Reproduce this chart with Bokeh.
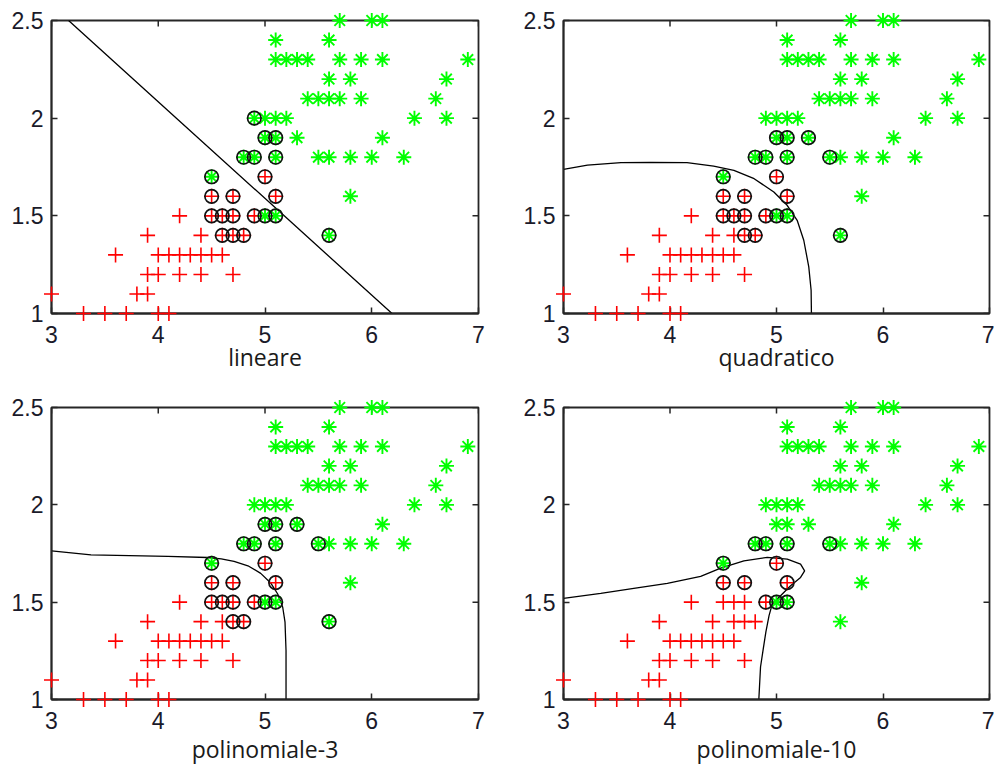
import math
from bokeh.plotting import figure
from bokeh.layouts import column, row
from bokeh.models import FixedTicker, Range1d
from bokeh.embed import file_html
from bokeh.resources import INLINE

# ---------------- data ----------------
x_ticks = [3, 4, 5, 6, 7]
x_tick_labels = ["3", "4", "5", "6", "7"]
y_ticks = [1, 1.5, 2, 2.5]
y_tick_labels = ["1", "1.5", "2", "2.5"]

# Iris versicolor (petal length, petal width)
vers_x = [3.3, 3.5, 3.7, 4.0, 4.1,
          3.0, 3.8, 3.9,
          3.9, 4.0, 4.2, 4.4, 4.7,
          3.6, 4.0, 4.1, 4.2, 4.3, 4.4, 4.5, 4.6,
          3.9, 4.4, 4.6, 4.7, 4.8,
          4.2, 4.5, 4.6, 4.7, 4.9,
          4.5, 4.7, 5.1,
          5.0]
vers_y = [1.0, 1.0, 1.0, 1.0, 1.0,
          1.1, 1.1, 1.1,
          1.2, 1.2, 1.2, 1.2, 1.2,
          1.3, 1.3, 1.3, 1.3, 1.3, 1.3, 1.3, 1.3,
          1.4, 1.4, 1.4, 1.4, 1.4,
          1.5, 1.5, 1.5, 1.5, 1.5,
          1.6, 1.6, 1.6,
          1.7]

# Iris virginica (petal length, petal width)
virg_x = [5.7, 6.0, 6.1,
          5.1, 5.6,
          5.1, 5.2, 5.3, 5.4, 5.7, 5.9, 6.1, 6.9,
          5.6, 5.8, 6.7,
          5.4, 5.5, 5.6, 5.7, 5.9, 6.6,
          4.9, 5.0, 5.1, 5.2, 6.4, 6.7,
          5.0, 5.1, 5.3, 6.1,
          4.8, 4.9, 5.1, 5.5, 5.6, 5.8, 6.0, 6.3,
          4.5,
          5.8,
          5.0, 5.1,
          5.6]
virg_y = [2.5, 2.5, 2.5,
          2.4, 2.4,
          2.3, 2.3, 2.3, 2.3, 2.3, 2.3, 2.3, 2.3,
          2.2, 2.2, 2.2,
          2.1, 2.1, 2.1, 2.1, 2.1, 2.1,
          2.0, 2.0, 2.0, 2.0, 2.0, 2.0,
          1.9, 1.9, 1.9, 1.9,
          1.8, 1.8, 1.8, 1.8, 1.8, 1.8, 1.8, 1.8,
          1.7,
          1.6,
          1.5, 1.5,
          1.4]

# support vectors (circled points) per model
sv_lin_x = [4.6, 4.7, 4.8, 4.5, 4.6, 4.7, 4.9, 4.5, 4.7, 5.1, 5.0,
            5.0, 5.1, 4.5, 4.8, 4.9, 5.1, 5.0, 5.1, 4.9, 5.6]
sv_lin_y = [1.4, 1.4, 1.4, 1.5, 1.5, 1.5, 1.5, 1.6, 1.6, 1.6, 1.7,
            1.5, 1.5, 1.7, 1.8, 1.8, 1.8, 1.9, 1.9, 2.0, 1.4]

sv_quad_x = [4.7, 4.8, 4.5, 4.6, 4.7, 4.9, 4.5, 4.7, 5.1, 5.0,
             5.0, 5.1, 4.5, 4.8, 4.9, 5.1, 5.5, 5.0, 5.1, 5.3, 5.6]
sv_quad_y = [1.4, 1.4, 1.5, 1.5, 1.5, 1.5, 1.6, 1.6, 1.6, 1.7,
             1.5, 1.5, 1.7, 1.8, 1.8, 1.8, 1.8, 1.9, 1.9, 1.9, 1.4]

sv_p3_x = [4.7, 4.8, 4.5, 4.6, 4.7, 4.9, 4.5, 4.7, 5.1, 5.0,
           5.0, 5.1, 4.5, 4.8, 4.9, 5.1, 5.5, 5.0, 5.1, 5.3, 5.6]
sv_p3_y = [1.4, 1.4, 1.5, 1.5, 1.5, 1.5, 1.6, 1.6, 1.6, 1.7,
           1.5, 1.5, 1.7, 1.8, 1.8, 1.8, 1.8, 1.9, 1.9, 1.9, 1.4]

sv_p10_x = [4.9, 4.5, 4.7, 5.1, 5.0,
            5.0, 5.1, 4.5, 4.8, 4.9, 5.1, 5.5]
sv_p10_y = [1.5, 1.6, 1.6, 1.6, 1.7,
            1.5, 1.5, 1.7, 1.8, 1.8, 1.8, 1.8]

# decision boundaries
bd_lin_x = [3.16, 4.17, 5.18, 6.19]
bd_lin_y = [2.5, 2.0, 1.5, 1.0]

bd_quad_x = [3.0, 3.225, 3.54, 3.82, 4.16, 4.41, 4.6, 4.79, 4.975, 5.1,
             5.194, 5.256, 5.303, 5.325, 5.328]
bd_quad_y = [1.738, 1.760, 1.772, 1.774, 1.772, 1.755, 1.733, 1.690, 1.622, 1.554,
             1.477, 1.375, 1.239, 1.119, 1.0]

bd_p3_x = [3.0, 3.37, 4.09, 4.46, 4.59, 4.71, 4.84, 4.96, 5.056, 5.119,
           5.166, 5.1875, 5.197, 5.197]
bd_p3_y = [1.764, 1.743, 1.735, 1.7295, 1.7227, 1.709, 1.687, 1.648, 1.597, 1.542,
           1.474, 1.397, 1.252, 1.0]

bd_p10_x = [3.0, 3.35, 3.66, 3.975, 4.288, 4.476, 4.694, 4.913, 5.101, 5.226,
            5.264, 5.226, 5.132, 5.038, 4.96, 4.93, 4.90, 4.876, 4.85, 4.834]
bd_p10_y = [1.52, 1.545, 1.571, 1.597, 1.632, 1.675, 1.712, 1.730, 1.721, 1.695,
            1.661, 1.627, 1.584, 1.533, 1.49, 1.431, 1.346, 1.261, 1.167, 1.0]

titles = ["lineare", "quadratico", "polinomiale-3", "polinomiale-10"]

X_MIN, X_MAX = 3, 7
Y_MIN, Y_MAX = 1, 2.5

# ---------------- styling ----------------
TICK_FONT = "Liberation Sans"
LABEL_FONT = "Open Sans"
AX_COLOR = "#262626"
TICK_LEN = 6


def make_panel(title, svx, svy, bx, by, width, height, bl, br, bt, bb, lab_standoff):
    p = figure(width=width, height=height,
               x_range=Range1d(X_MIN, X_MAX), y_range=Range1d(Y_MIN, Y_MAX),
               output_backend="svg", toolbar_location=None,
               min_border_left=bl, min_border_right=br,
               min_border_top=bt, min_border_bottom=bb)
    p.grid.visible = False
    p.outline_line_color = AX_COLOR
    p.outline_line_width = 1.8
    p.background_fill_color = "white"
    p.border_fill_color = "white"

    p.xaxis.ticker = FixedTicker(ticks=x_ticks)
    p.yaxis.ticker = FixedTicker(ticks=y_ticks)
    p.xaxis.major_label_overrides = {t: s for t, s in zip(x_ticks, x_tick_labels)}
    p.yaxis.major_label_overrides = {t: s for t, s in zip(y_ticks, y_tick_labels)}
    for ax in list(p.xaxis) + list(p.yaxis):
        ax.axis_line_color = AX_COLOR
        ax.axis_line_width = 1.8
        ax.major_tick_line_color = AX_COLOR
        ax.major_tick_line_width = 1.5
        ax.major_tick_in = TICK_LEN
        ax.major_tick_out = 0
        ax.minor_tick_line_color = None
        ax.major_label_text_font = TICK_FONT
        ax.major_label_text_font_size = "23px"
        ax.major_label_text_color = "#1a1a2a"
    p.xaxis.major_label_standoff = 12
    p.yaxis.major_label_standoff = 8
    p.xaxis.axis_label = title
    p.xaxis.axis_label_text_font = LABEL_FONT
    p.xaxis.axis_label_text_font_size = "23px"
    p.xaxis.axis_label_text_font_style = "normal"
    p.xaxis.axis_label_text_color = "#1a1a1a"
    p.xaxis.axis_label_standoff = lab_standoff

    # inward ticks on the top and right sides of the box
    p.ray(x=x_ticks, y=[Y_MAX] * len(x_ticks), length=TICK_LEN, length_units="screen",
          angle=-math.pi / 2, line_color=AX_COLOR, line_width=1.5)
    p.ray(x=[X_MAX] * len(y_ticks), y=y_ticks, length=TICK_LEN, length_units="screen",
          angle=math.pi, line_color=AX_COLOR, line_width=1.5)

    # boundary
    p.line(bx, by, line_color="black", line_width=1.3)
    # points
    r1 = p.scatter(vers_x, vers_y, marker="cross", size=15,
                   line_color="#ff0000", line_width=1.6)
    r2 = p.scatter(virg_x, virg_y, marker="asterisk", size=15,
                   line_color="#00ff00", line_width=1.9)
    r3 = p.scatter(svx, svy, marker="circle", size=13.5, fill_color=None,
                   line_color="#111111", line_width=1.7)
    for r in (r1, r2, r3):
        r.level = "overlay"
    return p


W1, W2 = 520, 474
H1, H2 = 396, 371

p1 = make_panel(titles[0], sv_lin_x, sv_lin_y, bd_lin_x, bd_lin_y,
                W1, H1, 51, 42, 20, 83, -5)
p2 = make_panel(titles[1], sv_quad_x, sv_quad_y, bd_quad_x, bd_quad_y,
                W2, H1, 43, 5, 20, 83, -5)
p3 = make_panel(titles[2], sv_p3_x, sv_p3_y, bd_p3_x, bd_p3_y,
                W1, H2, 51, 42, 11, 67, 1)
p4 = make_panel(titles[3], sv_p10_x, sv_p10_y, bd_p10_x, bd_p10_y,
                W2, H2, 43, 5, 11, 67, 1)

layout = column(row(p1, p2), row(p3, p4))

with open("out.html", "w") as f:
    f.write(file_html(layout, INLINE))
